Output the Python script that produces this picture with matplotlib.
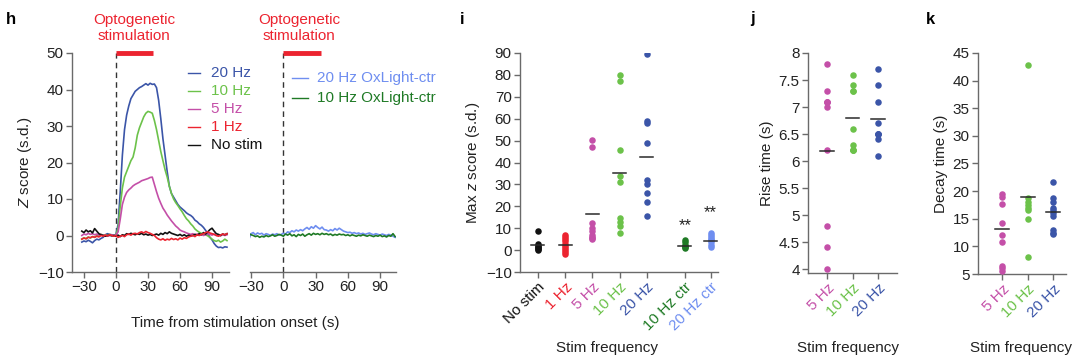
import numpy as np
import matplotlib
matplotlib.use('Agg')
import matplotlib.pyplot as plt
from matplotlib.lines import Line2D

plt.rcParams['font.family'] = ['Liberation Sans', 'DejaVu Sans']
plt.rcParams['mathtext.fontset'] = 'custom'
plt.rcParams['mathtext.it'] = 'Liberation Sans:italic'
plt.rcParams['mathtext.rm'] = 'Liberation Sans'

# ---------------- data ----------------
time_s = np.arange(-32, 105, 2)

trace_20hz = [-1.8, -1.5, -1.7, -1.3, -1.6, -2.0, -1.4, -1.0, -1.2, -0.8, -0.5, 0.2, 0.5, 0.3, 0.2, 0.0, 0.3,
              3, 12, 22, 29, 33, 35.5, 37.5, 38.5, 39.5, 40, 40.5, 40.8, 41.2, 41.6, 41.2, 41.7, 41.4, 41.5,
              40.5, 37, 32, 26.5, 22, 17.5, 13.5, 11.5, 10.5, 9.5, 8.5, 7.8, 7.3, 6.8, 6.2, 5.8, 5.5, 5.0,
              4.2, 3.8, 3.2, 2.8, 2.2, 1.4, 0.5, -0.5, -1.2, -2.2, -2.9, -3.3, -3.2, -3.4, -3.1, -3.2]
trace_10hz = [-1.0, -0.6, -0.9, -0.4, -0.7, -0.3, -0.5, 0.0, -0.2, 0.3, 0.1, 0.2, 0.0, 0.3, 0.1, -0.1, 0.2,
              2, 8, 13, 16, 17.5, 19, 20.5, 21.5, 24, 27.5, 29.5, 31, 32.5, 33.5, 34, 33.8, 33.5, 31.5,
              29, 26, 23, 20.5, 18, 16, 13.5, 11.5, 10, 9, 8.2, 7.3, 6.5, 5.5, 4.6, 4.0, 3.2, 2.6,
              1.8, 1.3, 0.9, 0.6, 0.4, 0.2, -0.1, -0.5, -1.0, -1.4, -1.6, -1.3, -1.8, -1.5, -1.0, -1.4]
trace_5hz = [0.0, 0.4, 0.2, 0.6, 0.3, 0.5, 0.2, 0.4, 0.1, 0.3, 0.0, 0.1, -0.2, 0.0, 0.2, 0.0, 0.1,
             1, 4.5, 8.5, 10.5, 11.8, 12.5, 13, 13.6, 14, 14.3, 14.6, 15, 15.2, 15.4, 15.6, 15.9, 16, 14,
             12, 10.2, 8.8, 7.5, 6.6, 5.6, 4.8, 4.0, 3.3, 2.6, 2.1, 1.5, 1.2, 1.0, 0.7, 0.5, 0.3, 0.5,
             0.2, 0.4, 0.1, 0.3, 0.0, 0.2, 0.5, 0.3, 0.1, 0.4, 0.0, 0.2, -0.1, 0.3, 0.0, 0.2]
trace_1hz = [-1.0, -0.7, -0.9, -0.5, -0.6, -0.3, -0.5, -0.2, -0.4, 0.0, -0.2, 0.1, -0.1, 0.2, 0.0, -0.2, 0.0,
             -0.5, -0.2, 0.0, -0.3, 0.2, 0.4, 0.1, 0.5, 0.6, 0.4, 0.8, 1.0, 0.7, 1.1, 0.8, 0.6, 0.3, 0.0,
             -0.6, -1.0, -1.2, -0.9, -1.3, -1.0, -1.2, -0.8, -1.1, -0.9, -1.2, -0.7, -1.0, -0.6, -0.8, -0.4, -0.2, 0.0,
             -0.3, 0.2, 0.0, 0.3, 0.5, 0.8, 1.0, 0.7, 0.5, 0.3, 0.0, -0.2, 0.1, 0.4, 0.2, 0.5]
trace_nostim = [1.2, 0.8, 1.5, 1.0, 1.3, 0.7, 1.9, 1.2, 0.5, 0.2, 0.0, -0.2, 0.0, 0.1, -0.1, 0.0, -0.2,
                0.1, -0.3, 0.2, 0.0, 0.5, 0.3, 0.6, 0.4, 0.2, 0.5, 0.3, 0.6, 0.2, 0.4, 0.1, 0.3, 0.0, 0.2,
                0.4, 0.1, 0.6, 0.3, 0.8, 0.5, 1.0, 0.6, 0.4, 0.2, 0.0, 0.3, -0.1, 0.2, -0.2, 0.1, -0.1, 0.0,
                0.3, 0.1, 0.5, 0.2, 0.8, 0.4, 1.0, 1.6, 2.0, 1.2, 0.5, 0.3, 0.0, 0.4, 0.2, 0.5]
trace_20hz_ctr = [-1.0, 0.5, 0.8, 0.2, 0.7, 0.4, 0.6, 0.1, 0.5, 0.3, 0.0, 0.4, 0.2, 0.5, 0.1, 0.3, 0.6,
                  0.4, 1.0, 0.8, 1.3, 1.0, 1.5, 1.2, 1.6, 1.3, 1.8, 2.2, 1.7, 2.4, 2.0, 2.7, 2.2, 1.8, 2.3,
                  1.6, 1.5, 1.2, 1.6, 1.3, 1.9, 1.5, 2.0, 1.6, 1.2, 1.0, 0.8, 0.9, 0.6, 0.8, 0.5, 0.7, 0.4,
                  0.6, 0.3, 0.5, 0.7, 0.4, 0.2, 0.5, 0.3, 0.1, 0.4, 0.2, 0.0, 0.3, 0.1, -0.2, -0.5]
trace_10hz_ctr = [0.5, 0.2, 0.0, -0.3, -0.1, -0.5, -0.2, -0.4, 0.0, -0.3, -0.1, 0.2, -0.2, 0.0, 0.3, 0.1, -0.2,
                  0.4, 0.1, 0.5, -0.1, 0.2, -0.3, 0.3, 0.0, 0.4, -0.2, 0.2, 0.5, 0.1, 0.6, 0.3, 0.5, 0.2, 0.6,
                  0.3, 0.5, 0.2, 0.4, 0.0, 0.3, 0.1, 0.4, 0.2, 0.3, 0.0, 0.2, -0.1, 0.2, 0.0, -0.2, 0.1, -0.1,
                  0.2, 0.0, -0.2, 0.1, -0.1, -0.3, 0.0, -0.2, 0.1, -0.3, -0.1, -0.4, 0.0, -0.2, 0.5, -0.3]
stim_window = [0, 35]

# panel i
i_labels = ['No stim', '1 Hz', '5 Hz', '10 Hz', '20 Hz', '10 Hz ctr', '20 Hz ctr']
i_values = [
    [8.5, 3, 2, 1.5, 1, 0.5, 0],
    [7, 6, 5, 4, 3, 2, 1, 0, -1, -2],
    [50.5, 47, 12.5, 10, 8.5, 7, 6, 5.5, 5],
    [80, 77, 45.5, 34, 31, 14.5, 13, 11, 8],
    [89.5, 59, 58, 49, 32, 30, 26, 22, 15.5],
    [4.5, 3.5, 2.5, 2, 1.5, 1],
    [8, 7, 6, 5, 4.5, 3.5, 2.5, 1.5],
]
i_means = [2.5, 2.3, 16.7, 35, 42.3, 1.8, 4.2]
i_sig = {5: 11.4, 6: 16.9}

# panels j, k
jk_labels = ['5 Hz', '10 Hz', '20 Hz']
rise_values = [
    [7.8, 7.3, 7.1, 7.1, 7.1, 7.0, 6.2, 4.8, 4.4, 4.0],
    [7.6, 7.4, 7.3, 7.3, 6.6, 6.3, 6.2, 6.2, 6.2],
    [7.7, 7.4, 7.1, 6.7, 6.5, 6.5, 6.5, 6.4, 6.1],
]
rise_means = [6.19, 6.8, 6.77]
decay_values = [
    [19.5, 19, 17.7, 14.2, 12, 10.8, 6.5, 6, 5.5],
    [42.8, 18.8, 18, 17.5, 17, 16.5, 15, 8],
    [21.7, 18.7, 18, 17, 16.5, 16, 15.5, 13, 12.5, 12.3],
]
decay_means = [13.2, 18.9, 16.3]

# ---------------- style ----------------
C_BLUE = '#3b55a8'
C_GREEN = '#6cc24a'
C_MAG = '#c44fa8'
C_RED = '#ec2430'
C_BLACK = '#111111'
C_DKGREEN = '#1f7a25'
C_LTBLUE = '#6f8ef0'
SPINE = '#6a6a6a'
TXT = '#222222'
FS = 11
LFS = 11

i_colors = [C_BLACK, C_RED, C_MAG, C_GREEN, C_BLUE, C_DKGREEN, C_LTBLUE]
jk_colors = [C_MAG, C_GREEN, C_BLUE]

W, H = 1080, 363
fig = plt.figure(figsize=(W / 100, H / 100), dpi=100)


def box(l, t, r, b):
    return [l / W, 1 - b / H, (r - l) / W, (b - t) / H]


def style(ax, left=True):
    for s in ['top', 'right']:
        ax.spines[s].set_visible(False)
    for s in ['left', 'bottom']:
        ax.spines[s].set_color(SPINE)
        ax.spines[s].set_linewidth(1.0)
    ax.tick_params(direction='out', length=4, width=1, color=SPINE,
                   labelcolor=TXT, labelsize=FS, pad=2)
    if not left:
        ax.spines['left'].set_visible(False)
        ax.tick_params(axis='y', left=False, labelleft=False)


def ftext(x, y, s, **kw):
    fig.text(x / W, 1 - y / H, s, **kw)


def fline(x0, x1, y, color):
    fig.add_artist(Line2D([x0 / W, x1 / W], [1 - y / H, 1 - y / H],
                          color=color, lw=1.0, transform=fig.transFigure))


# ---- panel h (left) ----
ax1 = fig.add_axes(box(72, 53, 229, 272))
style(ax1)
ax1.set_xlim(-41.2, 105.9)
ax1.set_ylim(-10, 50)
ax1.set_xticks([-30, 0, 30, 60, 90])
ax1.set_yticks([-10, 0, 10, 20, 30, 40, 50])
ax1.axvline(0, color='#333333', lw=1, ls=(0, (4, 3)), zorder=1)
ax1.plot(stim_window, [50, 50], color=C_RED, lw=3.5, solid_capstyle='butt', clip_on=False)
for tr, c in [(trace_20hz, C_BLUE), (trace_10hz, C_GREEN), (trace_5hz, C_MAG),
              (trace_nostim, C_BLACK), (trace_1hz, C_RED)]:
    ax1.plot(time_s, tr, color=c, lw=1.2)
ax1.set_ylabel('$Z$ score (s.d.)', fontsize=LFS, color=TXT, labelpad=3)

# ---- panel h (right) ----
ax2 = fig.add_axes(box(250, 53, 396, 272))
style(ax2, left=False)
ax2.set_xlim(-31, 104.8)
ax2.set_ylim(-10, 50)
ax2.set_xticks([-30, 0, 30, 60, 90])
ax2.axvline(0, color='#333333', lw=1, ls=(0, (4, 3)), zorder=1)
ax2.plot(stim_window, [50, 50], color=C_RED, lw=3.5, solid_capstyle='butt', clip_on=False)
ax2.plot(time_s, trace_20hz_ctr, color=C_LTBLUE, lw=1.2)
ax2.plot(time_s, trace_10hz_ctr, color=C_DKGREEN, lw=1.2)

ftext(134, 28, 'Optogenetic\nstimulation', color=C_RED, fontsize=LFS,
      ha='center', va='center', linespacing=1.1)
ftext(299, 28, 'Optogenetic\nstimulation', color=C_RED, fontsize=LFS,
      ha='center', va='center', linespacing=1.1)

for k, (lab, c) in enumerate([('20 Hz', C_BLUE), ('10 Hz', C_GREEN), ('5 Hz', C_MAG),
                              ('1 Hz', C_RED), ('No stim', C_BLACK)]):
    y = 73 + 18 * k
    fline(188, 200, y, c)
    ftext(211, y, lab, color=c, fontsize=LFS, va='center', ha='left')
for k, (lab, c) in enumerate([('20 Hz OxLight-ctr', C_LTBLUE), ('10 Hz OxLight-ctr', C_DKGREEN)]):
    y = 78 + 20 * k
    fline(292, 308, y, c)
    ftext(317, y, lab, color=c, fontsize=LFS, va='center', ha='left')

ftext(235, 323, 'Time from stimulation onset (s)', color=TXT, fontsize=LFS,
      ha='center', va='center')

# ---- panel i ----
i_pos = [0, 1, 2, 3, 4, 5.4, 6.35]
ax3 = fig.add_axes(box(520, 53, 718, 272))
style(ax3)
ax3.set_xlim(-0.66, 6.62)
ax3.set_ylim(-10, 90)
ax3.set_yticks(np.arange(-10, 91, 10))
for p, vals, m, c in zip(i_pos, i_values, i_means, i_colors):
    ax3.scatter(np.full(len(vals), p), vals, s=22, color=c, linewidths=0, zorder=3)
    ax3.plot([p - 0.24, p + 0.24], [m, m], color='#2a2a2a', lw=1.1, zorder=4)
for idx, yv in i_sig.items():
    ax3.text(i_pos[idx], yv, '**', ha='center', va='center', fontsize=FS + 1, color=TXT)
ax3.set_xticks(i_pos)
ax3.set_xticklabels(i_labels, rotation=45, ha='right', rotation_mode='anchor')
for tl, c in zip(ax3.get_xticklabels(), i_colors):
    tl.set_color(c)
ax3.set_ylabel('Max $z$ score (s.d.)', fontsize=LFS, color=TXT, labelpad=3)
ftext(607, 348, 'Stim frequency', color=TXT, fontsize=LFS, ha='center', va='center')

# ---- panel j ----
jk_pos = [0, 1, 2]
ax4 = fig.add_axes(box(808, 53, 897, 273))
style(ax4)
ax4.set_xlim(-0.75, 2.75)
ax4.set_ylim(3.926, 8)
ax4.set_yticks([4, 4.5, 5, 5.5, 6, 6.5, 7, 7.5, 8])
ax4.set_yticklabels(['4', '4.5', '5', '5.5', '6', '6.5', '7', '7.5', '8'])
for p, vals, m, c in zip(jk_pos, rise_values, rise_means, jk_colors):
    ax4.scatter(np.full(len(vals), p), vals, s=22, color=c, linewidths=0, zorder=3, clip_on=False)
    ax4.plot([p - 0.27, p + 0.27], [m, m], color='#2a2a2a', lw=1.1, zorder=4)
ax4.set_xticks(jk_pos)
ax4.set_xticklabels(jk_labels, rotation=45, ha='right', rotation_mode='anchor')
for tl, c in zip(ax4.get_xticklabels(), jk_colors):
    tl.set_color(c)
ax4.set_ylabel('Rise time (s)', fontsize=LFS, color=TXT, labelpad=3)
ftext(848, 348, 'Stim frequency', color=TXT, fontsize=LFS, ha='center', va='center')

# ---- panel k ----
ax5 = fig.add_axes(box(978, 53, 1066, 274))
style(ax5)
ax5.set_xlim(-0.94, 2.5)
ax5.set_ylim(5, 45)
ax5.set_yticks(np.arange(5, 46, 5))
for p, vals, m, c in zip(jk_pos, decay_values, decay_means, jk_colors):
    ax5.scatter(np.full(len(vals), p), vals, s=22, color=c, linewidths=0, zorder=3, clip_on=False)
    ax5.plot([p - 0.27, p + 0.27], [m, m], color='#2a2a2a', lw=1.1, zorder=4)
ax5.set_xticks(jk_pos)
ax5.set_xticklabels(jk_labels, rotation=45, ha='right', rotation_mode='anchor')
for tl, c in zip(ax5.get_xticklabels(), jk_colors):
    tl.set_color(c)
ax5.set_ylabel('Decay time (s)', fontsize=LFS, color=TXT, labelpad=3)
ftext(1021, 348, 'Stim frequency', color=TXT, fontsize=LFS, ha='center', va='center')

# panel letters
for x, s in [(11, 'h'), (462, 'i'), (753, 'j'), (930, 'k')]:
    ftext(x, 19, s, fontsize=12, fontweight='bold', color='#000000', ha='center', va='center')

fig.savefig('out.png', dpi=100)
